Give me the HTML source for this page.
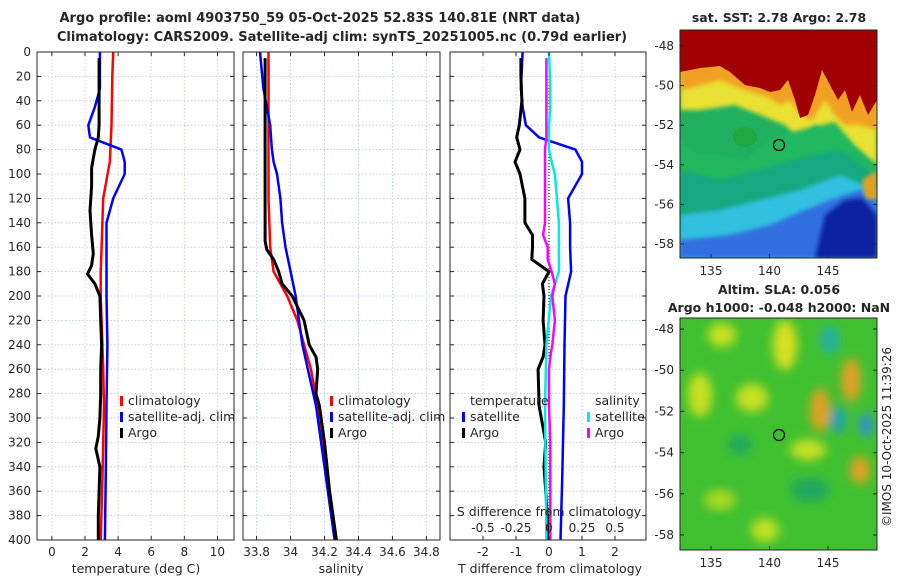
<!DOCTYPE html>
<html><head><meta charset="utf-8">
<style>
body{margin:0;background:#fff;font-family:"Liberation Sans","DejaVu Sans",sans-serif;}
svg text{font-family:"DejaVu Sans","Liberation Sans",sans-serif;fill:#262626;}
</style></head>
<body>
<svg id="c" width="900" height="580" viewBox="0 0 900 580" xmlns="http://www.w3.org/2000/svg">
<defs>
<filter id="blur4"><feGaussianBlur stdDeviation="5"/></filter>
<filter id="blur2"><feGaussianBlur stdDeviation="2"/></filter>
<clipPath id="clipTop"><rect x="680" y="30" width="197" height="228"/></clipPath>
<clipPath id="clipBot"><rect x="680" y="318" width="197" height="232"/></clipPath>
</defs>
<text x="320" y="22" text-anchor="middle" font-size="13" font-weight="bold">Argo profile: aoml 4903750_59 05-Oct-2025 52.83S 140.81E (NRT data)</text>
<text x="342" y="41" text-anchor="middle" font-size="13" font-weight="bold">Climatology: CARS2009. Satellite-adj clim: synTS_20251005.nc (0.79d earlier)</text>

<!-- SST map -->
<g clip-path="url(#clipTop)">
<rect x="680" y="30" width="197" height="228" fill="#3aa6e8"/>
<path d="M680,30 H877 V258 H680Z" fill="#20b060"/>
<path d="M680,30 H877 V165 L860,150 L845,140 L830,135 L815,125 L800,140 L785,125 L760,115 L735,105 L700,110 L680,110Z" fill="#e8e030" filter="url(#blur2)"/>
<path d="M680,30 H877 V130 L860,125 L845,125 L835,115 L825,100 L812,120 L800,115 L790,100 L780,105 L770,98 L745,90 L720,80 L690,88 L680,90Z" fill="#f0a020" filter="url(#blur2)"/>
<path d="M680,30 H877 V100 L868,115 L860,95 L852,112 L845,90 L838,100 L830,85 L822,70 L815,95 L808,115 L800,118 L795,100 L788,80 L780,90 L770,92 L760,88 L745,85 L730,72 L720,66 L700,68 L680,72Z" fill="#a00000"/>
<path d="M680,140 L700,155 L720,155 L745,160 L770,140 L800,130 L835,122 L850,140 L860,155 L877,170 V258 H680Z" fill="#20b860" filter="url(#blur2)"/>
<path d="M680,170 L720,180 L760,170 L800,158 L840,150 L877,175 V258 H680Z" fill="#18a880" filter="url(#blur2)"/>
<ellipse cx="745" cy="137" rx="12" ry="10" fill="#20a840"/>
<path d="M680,215 L720,210 L760,200 L800,190 L840,175 L877,190 V258 H680Z" fill="#30c0e0" filter="url(#blur2)"/>
<path d="M680,240 L730,235 L770,225 L800,212 L830,200 L860,190 L877,200 V258 H680Z" fill="#3070e0" filter="url(#blur2)"/>
<path d="M815,258 L825,215 L845,200 L862,198 L877,215 V258Z" fill="#0820a0" filter="url(#blur2)"/>
<path d="M862,180 L877,170 V200 L865,198Z" fill="#e0a020" filter="url(#blur2)"/>
</g>
<rect x="680" y="30" width="197" height="228" fill="none" stroke="#262626" stroke-width="1"/>
<circle cx="779" cy="145" r="5.5" fill="none" stroke="#000" stroke-width="1.2"/>
<text x="779" y="22" text-anchor="middle" font-size="12.5" font-weight="bold">sat. SST: 2.78 Argo: 2.78</text>

<!-- SLA map -->
<g clip-path="url(#clipBot)">
<rect x="680" y="318" width="197" height="232" fill="#40c030"/>
<g filter="url(#blur4)">
<ellipse cx="700" cy="395" rx="12" ry="22" fill="#c8e020"/>
<ellipse cx="722" cy="335" rx="14" ry="12" fill="#c8e020"/>
<ellipse cx="785" cy="345" rx="12" ry="25" fill="#d8e020"/>
<ellipse cx="752" cy="398" rx="16" ry="14" fill="#c8e020"/>
<ellipse cx="820" cy="410" rx="10" ry="22" fill="#e0a020"/>
<ellipse cx="851" cy="380" rx="10" ry="22" fill="#e0a020"/>
<ellipse cx="860" cy="470" rx="10" ry="14" fill="#e0a020"/>
<ellipse cx="830" cy="340" rx="10" ry="14" fill="#20b0a0"/>
<ellipse cx="838" cy="420" rx="8" ry="14" fill="#20a0b0"/>
<ellipse cx="866" cy="425" rx="7" ry="12" fill="#3090d0"/>
<ellipse cx="808" cy="450" rx="18" ry="10" fill="#c8e020"/>
<ellipse cx="720" cy="500" rx="16" ry="10" fill="#a8d820"/>
<ellipse cx="765" cy="530" rx="14" ry="12" fill="#c0e020"/>
<ellipse cx="740" cy="445" rx="12" ry="10" fill="#20a860"/>
<ellipse cx="810" cy="490" rx="20" ry="12" fill="#20a860"/>
</g>
</g>
<rect x="680" y="318" width="197" height="232" fill="none" stroke="#262626" stroke-width="1"/>
<circle cx="779" cy="435" r="5.5" fill="none" stroke="#000" stroke-width="1.2"/>
<text x="779" y="294" text-anchor="middle" font-size="12.5" font-weight="bold">Altim. SLA: 0.056</text>
<text x="779" y="312" text-anchor="middle" font-size="12.5" font-weight="bold">Argo h1000: -0.048 h2000: NaN</text>
<text transform="translate(891,437) rotate(-90)" text-anchor="middle" font-size="12">©IMOS 10-Oct-2025 11:39:26</text>
<g id="layer"></g>
</svg>
<script>
// ---- data ----
const depthTicks=[0,20,40,60,80,100,120,140,160,180,200,220,240,260,280,300,320,340,360,380,400];
const tempTicks=[0,2,4,6,8,10];
const salTicks=[33.8,34,34.2,34.4,34.6,34.8];
const salTickLabels=["33.8","34","34.2","34.4","34.6","34.8"];
const tdiffTicks=[-2,-1,0,1,2];
const sdiffTicks=[-0.5,-0.25,0,0.25,0.5];
const sdiffTickLabels=["-0.5","-0.25","0","0.25","0.5"];
const latTicks=[-48,-50,-52,-54,-56,-58];
const lonTicks=[135,140,145];

const argoDepth=[5,20,40,60,70,80,95,110,130,150,165,175,182,190,200,220,240,260,280,300,315,325,340,360,380,400];
const argoTemp=[2.85,2.85,2.85,2.85,2.8,2.6,2.4,2.4,2.3,2.4,2.5,2.4,2.15,2.6,2.9,2.95,3.0,2.95,2.95,2.9,2.8,2.65,2.9,2.85,2.8,2.8];

const argoSalDepth=[5,40,80,120,155,162,170,180,190,200,220,240,250,260,280,290,320,360,400];
const argoSal=[33.85,33.85,33.85,33.85,33.85,33.86,33.9,33.93,33.95,34.01,34.08,34.11,34.15,34.16,34.15,34.17,34.2,34.23,34.27];

const argoDiffDepth=[5,20,40,60,70,80,90,100,120,140,150,160,170,180,190,200,220,240,250,260,290,320,340,360,380,400];
const argoTdiff=[-0.85,-0.85,-0.82,-0.9,-0.98,-0.88,-1.03,-0.88,-0.73,-0.73,-0.5,-0.5,-0.52,0.0,-0.2,-0.15,-0.18,-0.12,-0.18,-0.33,-0.3,-0.1,-0.15,-0.1,-0.05,-0.05];
const argoSdiff=[-0.02,-0.02,-0.02,-0.02,-0.02,-0.03,-0.03,-0.03,-0.03,-0.03,-0.045,-0.01,-0.01,0.02,0.045,0.025,0.045,0.025,0.01,0.0,0.0,0.01,0.01,0.01,0.01,0.01];

const climDepth=[0,20,60,90,120,160,180,200,220,260,290,350,400];
const climTemp=[3.7,3.65,3.6,3.5,3.1,3.0,2.95,2.95,3.0,3.1,3.15,3.05,2.95];
const climSal=[33.87,33.87,33.87,33.87,33.87,33.88,33.9,33.98,34.04,34.12,34.16,34.21,34.26];

const satDepth=[0,30,45,60,70,80,90,100,120,140,160,180,200,240,290,350,400];
const satTemp=[2.9,2.9,2.6,2.2,2.3,4.2,4.4,4.4,3.7,3.3,3.3,3.3,3.3,3.35,3.3,3.25,3.2];
const satSal=[33.82,33.84,33.86,33.88,33.885,33.89,33.9,33.92,33.94,33.95,33.97,34.0,34.03,34.07,34.15,34.21,34.26];
const satTdiff=[-0.8,-0.85,-0.8,-0.7,-0.3,0.8,1.0,1.0,0.58,0.64,0.64,0.67,0.5,0.47,0.45,0.4,0.35];
const satSdiff=[0.0,0.01,0.01,0.0,0.0,0.0,0.02,0.045,0.06,0.075,0.075,0.075,0.015,-0.02,-0.03,-0.025,-0.02];

// ---- helpers ----
const NS="http://www.w3.org/2000/svg";
const layer=document.getElementById('layer');
function mk(tag,attrs,parent){const e=document.createElementNS(NS,tag);for(const k in attrs)e.setAttribute(k,attrs[k]);(parent||layer).appendChild(e);return e;}
const Y0=52,Y1=540;
const yD=d=>Y0+(Y1-Y0)*d/400;
function lin(d0,d1,r0,r1){return v=>r0+(r1-r0)*(v-d0)/(d1-d0);}
const panels=[
 {x0:37,x1:234,name:'temperature-panel',sx:lin(-0.9,11,37,234)},
 {x0:243,x1:440,name:'salinity-panel',sx:lin(33.72,34.88,243,440)},
 {x0:450,x1:646,name:'difference-panel',sx:lin(-3,2.94,450,646)}
];
const sdx=lin(-0.75,0.735,450,646);

function frame(p){
 const g=mk('g',{});
 
 
 depthTicks.forEach(d=>{
  const l=mk('line',{x1:p.x0,x2:p.x1,y1:yD(d),y2:yD(d),stroke:'#b8c4ee','stroke-width':0.8,'stroke-dasharray':'1.5,2'},g);
  
  
 });
 return g;
}
function vgrid(g,p,vals,sx,col){
 vals.forEach(v=>{
  const l=mk('line',{x1:sx(v),x2:sx(v),y1:Y0,y2:Y1,stroke:col,'stroke-width':0.8,'stroke-dasharray':'1.5,2'},g);
  
  
 });
}
function box(g,p){
 const r=mk('rect',{x:p.x0,y:Y0,width:p.x1-p.x0,height:Y1-Y0,fill:'none',stroke:'#262626','stroke-width':1},g);
 
 
}
function ticksX(g,vals,sx,labels,y,dataName){
 vals.forEach((v,i)=>{
  mk('line',{x1:sx(v),x2:sx(v),y1:Y1,y2:Y1-4,stroke:'#262626'},g);
  mk('line',{x1:sx(v),x2:sx(v),y1:Y0,y2:Y0+4,stroke:'#262626'},g);
  const t=mk('text',{x:sx(v),y:y,'text-anchor':'middle','font-size':12},g);
  t.textContent=labels?labels[i]:String(v);
  
  
 });
}
function line(g,xs,ds,sx,col,w,nm){
 const pts=xs.map((v,i)=>sx(v).toFixed(1)+','+yD(ds[i]).toFixed(1)).join(' ');
 const pl=mk('polyline',{points:pts,fill:'none',stroke:col,'stroke-width':w,'stroke-linejoin':'round'},g);
 
 
}
function legend(g,x,y,col,label){
 mk('rect',{x:x,y:y-9,width:3,height:10,fill:col},g);
 const t=mk('text',{x:x+8,y:y,'font-size':12.5},g);
 t.textContent=label;
 
 
}

// panel 1
let p=panels[0],g=frame(p);
vgrid(g,p,tempTicks,p.sx,'#e8c0b8');
line(g,climTemp,climDepth,p.sx,'#ff0000',2.5,'climatology-temperature-line');
line(g,satTemp,satDepth,p.sx,'#0000ff',2.5,'satellite-temperature-line');
line(g,argoTemp,argoDepth,p.sx,'#000000',3,'argo-temperature-line');
box(g,p);
ticksX(g,tempTicks,p.sx,null,556,'temperature-tick-label');
depthTicks.forEach(d=>{
 mk('line',{x1:p.x0,x2:p.x0+4,y1:yD(d),y2:yD(d),stroke:'#262626'},g);
 mk('line',{x1:p.x1,x2:p.x1-4,y1:yD(d),y2:yD(d),stroke:'#262626'},g);
 const t=mk('text',{x:31,y:yD(d)+4,'text-anchor':'end','font-size':12},g);
 t.textContent=d;
 
 
});
let t=mk('text',{x:136,y:573,'text-anchor':'middle','font-size':12.5},g);t.textContent='temperature (deg C)';


legend(g,120,405,'#ff0000','climatology');
legend(g,120,421,'#0000ff','satellite-adj. clim');
legend(g,120,437,'#000000','Argo');

// panel 2
p=panels[1];g=frame(p);
vgrid(g,p,salTicks,p.sx,'#b8c4ee');
line(g,climSal,climDepth,p.sx,'#ff0000',2.5,'climatology-salinity-line');
line(g,satSal,satDepth,p.sx,'#0000ff',2.5,'satellite-salinity-line');
line(g,argoSal,argoSalDepth,p.sx,'#000000',3,'argo-salinity-line');
box(g,p);
ticksX(g,salTicks,p.sx,salTickLabels,556,'salinity-tick-label');
depthTicks.forEach(d=>{
 mk('line',{x1:p.x0,x2:p.x0+4,y1:yD(d),y2:yD(d),stroke:'#262626'},g);
 mk('line',{x1:p.x1,x2:p.x1-4,y1:yD(d),y2:yD(d),stroke:'#262626'},g);
});
t=mk('text',{x:341,y:573,'text-anchor':'middle','font-size':12.5},g);t.textContent='salinity';


legend(g,330,405,'#ff0000','climatology');
legend(g,330,421,'#0000ff','satellite-adj. clim');
legend(g,330,437,'#000000','Argo');

// panel 3
p=panels[2];g=frame(p);
vgrid(g,p,tdiffTicks,p.sx,'#b8c4ee');
mk('line',{x1:p.sx(0),x2:p.sx(0),y1:Y0,y2:Y1,stroke:'#000','stroke-width':1,'stroke-dasharray':'1,2'},g);
line(g,satTdiff,satDepth,p.sx,'#0000ff',2.5,'satellite-tdiff-line');
line(g,argoTdiff,argoDiffDepth,p.sx,'#000000',3,'argo-tdiff-line');
line(g,satSdiff,satDepth,sdx,'#00e8e8',2.5,'satellite-sdiff-line');
line(g,argoSdiff,argoDiffDepth,sdx,'#ff00ff',2.5,'argo-sdiff-line');
box(g,p);
ticksX(g,tdiffTicks,p.sx,null,556,'tdiff-tick-label');
sdiffTicks.forEach((v,i)=>{
 const tt=mk('text',{x:sdx(v),y:532,'text-anchor':'middle','font-size':12},g);
 tt.textContent=sdiffTickLabels[i];
 
 
});
depthTicks.forEach(d=>{
 mk('line',{x1:p.x0,x2:p.x0+4,y1:yD(d),y2:yD(d),stroke:'#262626'},g);
 mk('line',{x1:p.x1,x2:p.x1-4,y1:yD(d),y2:yD(d),stroke:'#262626'},g);
});
t=mk('text',{x:549,y:516,'text-anchor':'middle','font-size':12.5},g);t.textContent='S difference from climatology';


t=mk('text',{x:550,y:573,'text-anchor':'middle','font-size':12.5},g);t.textContent='T difference from climatology';


t=mk('text',{x:470,y:405,'font-size':12.5},g);t.textContent='temperature';


t=mk('text',{x:595,y:405,'font-size':12.5},g);t.textContent='salinity';


legend(g,462,421,'#0000ff','satellite');
legend(g,462,437,'#000000','Argo');
legend(g,587,421,'#00e8e8','satellite');
legend(g,587,437,'#ff00ff','Argo');

// map axes
const latTop=lin(-48,-58,46,244), latBot=lin(-48,-58,329,535), lonS=lin(135,145,711,828);
[[30,258,latTop,'sst'],[318,550,latBot,'sla']].forEach(([ya,yb,ls,nm])=>{
 const gg=mk('g',{});
 
 
 latTicks.forEach(v=>{
  mk('line',{x1:680,x2:684,y1:ls(v),y2:ls(v),stroke:'#262626'},gg);
  mk('line',{x1:877,x2:873,y1:ls(v),y2:ls(v),stroke:'#262626'},gg);
  const tt=mk('text',{x:674,y:ls(v)+4,'text-anchor':'end','font-size':12},gg);
  tt.textContent=v;
  
  
 });
 lonTicks.forEach(v=>{
  mk('line',{x1:lonS(v),x2:lonS(v),y1:yb,y2:yb-4,stroke:'#262626'},gg);
  const tt=mk('text',{x:lonS(v),y:yb+17,'text-anchor':'middle','font-size':12},gg);
  tt.textContent=v;
  
  
 });
});
</script>
</body></html>
